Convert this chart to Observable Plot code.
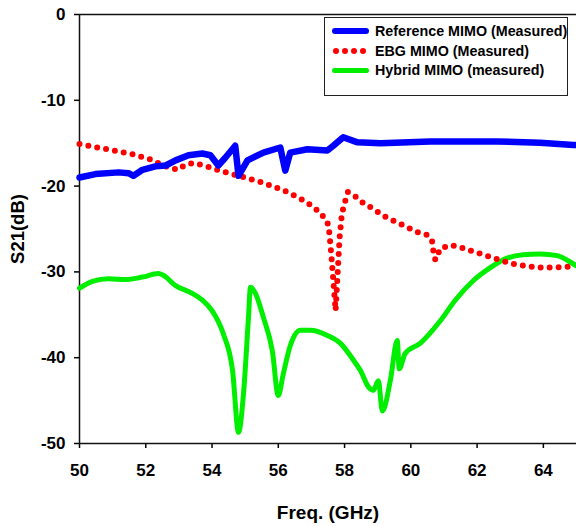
<!DOCTYPE html>
<html>
<head>
<meta charset="utf-8">
<script src="https://cdn.jsdelivr.net/npm/d3@7"></script>
<script src="https://cdn.jsdelivr.net/npm/@observablehq/plot@0.6"></script>
<style>
  html, body { margin: 0; padding: 0; background: #fff; }
  #wrap { position: relative; width: 576px; height: 526px; font-family: "Liberation Sans", Arial, sans-serif; }
  #legend { position: absolute; left: 324px; top: 17px; width: 244px; height: 79px; border: 1.5px solid #222; box-sizing: border-box; background: #fff; font-weight: bold; font-size: 14.3px; }
  .row { position: absolute; left: 7px; height: 20px; display: flex; align-items: center; white-space: nowrap; }
  .sw { width: 37px; height: 20px; margin-right: 6px; position: relative; }
</style>
</head>
<body>
<div id="wrap"></div>
<script>
// ---- data ----
const xTicks = [50, 52, 54, 56, 58, 60, 62, 64];
const yTicks = [0, -10, -20, -30, -40, -50];
const seriesNames = ["Reference MIMO (Measured)", "EBG MIMO (Measured)", "Hybrid MIMO (measured)"];
const seriesColors = ["#0000ff", "#ff0000", "#00ee00"];

const refFreq = [50.0, 50.48, 51.18, 51.48, 51.63, 51.9, 52.29, 52.6, 52.9, 53.29, 53.71, 53.95, 54.19, 54.4, 54.7, 54.8, 55.07, 55.55, 56.06, 56.21, 56.36, 56.88, 57.48, 57.66, 57.96, 58.39, 59.08, 60.59, 62.6, 63.9, 64.9, 65.0];
const refS21 = [-19.0, -18.6, -18.4, -18.5, -18.8, -18.1, -17.7, -17.6, -17.0, -16.4, -16.2, -16.4, -17.6, -16.7, -15.3, -18.8, -17.0, -16.1, -15.5, -18.2, -16.1, -15.7, -15.85, -15.3, -14.3, -14.9, -15.0, -14.8, -14.8, -14.95, -15.2, -15.2];

const ebgFreq = [50.0, 50.55, 51.09, 51.6, 52.15, 52.41, 52.68, 52.96, 53.2, 53.44, 53.74, 54.0, 54.25, 54.5, 54.8, 55.07, 55.37, 55.61, 55.85, 56.12, 56.36, 56.6, 56.9, 57.17, 57.42, 57.52, 57.6, 57.68, 57.73, 57.78, 57.85, 57.92, 58.0, 58.1, 58.36, 58.6, 58.85, 59.15, 59.4, 59.68, 59.95, 60.22, 60.5, 60.65, 60.68, 60.74, 60.89, 61.16, 61.4, 61.7, 61.95, 62.19, 62.49, 62.76, 63.0, 63.24, 63.51, 63.81, 64.05, 64.36, 64.6, 64.9, 65.0];
const ebgS21 = [-15.1, -15.5, -15.9, -16.3, -16.9, -17.4, -17.8, -18.1, -17.5, -17.3, -17.6, -17.9, -18.2, -18.5, -18.8, -19.1, -19.4, -19.7, -20.1, -20.4, -20.9, -21.3, -22.0, -22.8, -23.8, -24.6, -28.0, -32.0, -34.5, -31.0, -26.0, -23.2, -22.0, -20.7, -21.3, -22.1, -22.6, -23.4, -23.9, -24.4, -24.9, -25.4, -25.7, -26.5, -27.6, -28.6, -27.3, -26.9, -27.0, -27.4, -27.7, -28.0, -28.4, -28.7, -29.0, -29.2, -29.3, -29.5, -29.5, -29.5, -29.4, -29.4, -29.4];

const hybFreq = [50.0, 50.39, 50.88, 51.39, 51.9, 52.38, 52.53, 52.9, 53.4, 53.71, 54.0, 54.34, 54.62, 54.8, 54.95, 55.1, 55.16, 55.31, 55.55, 55.82, 56.0, 56.15, 56.36, 56.67, 56.97, 57.48, 57.87, 58.27, 58.48, 58.72, 58.87, 59.02, 59.14, 59.38, 59.59, 59.65, 59.83, 60.29, 60.89, 61.34, 61.89, 62.4, 62.9, 63.39, 63.9, 64.42, 64.75, 65.0];
const hybS21 = [-31.9, -31.1, -30.8, -30.9, -30.6, -30.2, -30.4, -31.6, -32.5, -33.3, -34.5, -37.2, -41.5, -48.7, -44.2, -35.3, -31.8, -32.5, -35.3, -39.2, -44.4, -41.9, -38.6, -36.8, -36.8, -37.4, -38.3, -40.3, -41.5, -43.4, -43.8, -42.7, -46.2, -42.7, -38.0, -41.3, -39.5, -38.3, -35.7, -33.3, -31.0, -29.5, -28.4, -28.0, -27.9, -28.1, -28.7, -29.3];

const toRows = (fs, vs) => fs.map((f, i) => ({f, v: vs[i]}));
const ref = toRows(refFreq, refS21);
const ebg = toRows(ebgFreq, ebgS21);
const hyb = toRows(hybFreq, hybS21);

const chart = Plot.plot({
  width: 576,
  height: 526,
  marginLeft: 79,
  marginRight: 0,
  marginTop: 14,
  marginBottom: 83,
  style: {fontFamily: "'Liberation Sans', Arial, sans-serif", fontSize: "17px", fontWeight: "bold", color: "#000", background: "#fff", overflow: "visible"},
  x: {domain: [50, 65]},
  y: {domain: [-50, 0]},
  marks: [
    Plot.axisX({ticks: xTicks, tickSize: 5, tickPadding: 15, label: null, strokeWidth: 1.5, tickFormat: d => String(d)}),
    Plot.axisY({ticks: yTicks, tickSize: 5, tickPadding: 9, label: null, strokeWidth: 1.5, tickFormat: d => String(d)}),
    Plot.ruleX([50], {stroke: "#111", strokeWidth: 1.5}),
    Plot.ruleY([-50, 0], {stroke: "#111", strokeWidth: 1.5}),
    Plot.line(hyb, {x: "f", y: "v", stroke: seriesColors[2], strokeWidth: 5, curve: "monotone-x", strokeLinejoin: "round"}),
    Plot.line(ebg, {x: "f", y: "v", stroke: seriesColors[1], strokeWidth: 6, strokeDasharray: "0 9", strokeLinecap: "round", strokeLinejoin: "round"}),
    Plot.line(ref, {x: "f", y: "v", stroke: seriesColors[0], strokeWidth: 6.5, strokeLinejoin: "round"}),
    Plot.text(["Freq. (GHz)"], {frameAnchor: "bottom", dy: 69, fontSize: 19, fontWeight: "bold", textAnchor: "middle", lineAnchor: "middle"}),
    Plot.text(["S21(dB)"], {frameAnchor: "left", dx: -61, rotate: -90, fontSize: 18.5, fontWeight: "bold", textAnchor: "middle", lineAnchor: "middle"})
  ]
});

const wrap = document.getElementById("wrap");
wrap.appendChild(chart);

// legend (HTML overlay)
const legend = document.createElement("div");
legend.id = "legend";
const tops = [13, 33, 52];
seriesNames.forEach((name, i) => {
  const row = document.createElement("div");
  row.className = "row";
  row.style.top = (tops[i] - 10) + "px";
  const sw = document.createElement("div");
  sw.className = "sw";
  if (i === 1) {
    for (let k = 0; k < 4; k++) {
      const d = document.createElement("div");
      d.style.cssText = `position:absolute;left:${1 + k * 9}px;top:7px;width:6px;height:6px;border-radius:50%;background:${seriesColors[i]}`;
      sw.appendChild(d);
    }
  } else {
    const h = i === 0 ? 6 : 5;
    const d = document.createElement("div");
    d.style.cssText = `position:absolute;left:0;top:${10 - h / 2}px;width:37px;height:${h}px;border-radius:${h / 2}px;background:${seriesColors[i]}`;
    sw.appendChild(d);
  }
  row.appendChild(sw);
  const t = document.createElement("span");
  t.textContent = name;
  row.appendChild(t);
  legend.appendChild(row);
});
wrap.appendChild(legend);
</script>
</body>
</html>
